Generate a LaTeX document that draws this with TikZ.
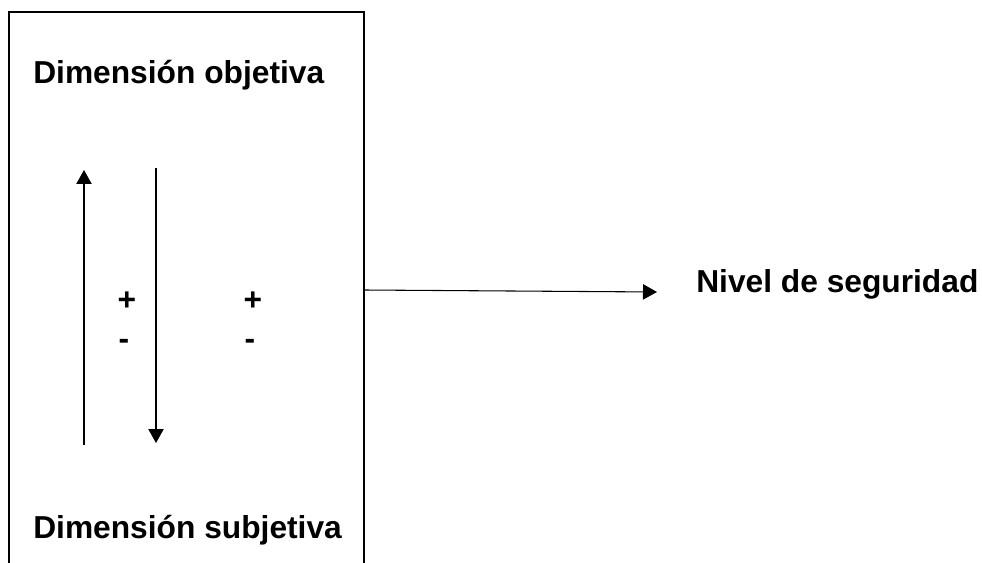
\documentclass[tikz,border=0pt]{standalone}
\usepackage{fontspec}
\setmainfont{Liberation Sans}
\usetikzlibrary{arrows.meta}
\begin{document}
\begin{tikzpicture}[x=0.75pt,y=-0.75pt,
  lbl/.style={font=\bfseries\fontsize{23.8}{28}\selectfont, inner sep=0pt},
  conn/.style={line width=0.8pt, -{Triangle[width=11.5pt,length=10.5pt]}},
  frame/.style={line width=0.9pt}]
\useasboundingbox (0,0) rectangle (982,563);
\coordinate (bl) at (9,563);
\coordinate (tl) at (9,12);
\coordinate (tr) at (364,12);
\coordinate (br) at (364,563);
\draw[frame] (bl) -- (tl) -- (tr) -- (br);
\node[lbl, anchor=base west] (obj) at (33,84) {Dimensión objetiva};
\node[lbl, anchor=base west] (subj) at (33,538) {Dimensión subjetiva};
\node[lbl, anchor=base west] (niv) at (696,292) {Nivel de seguridad};
\node[lbl] (p1) at (127,301) {+};
\node[lbl] (m1) at (124,344) {-};
\node[lbl] (p2) at (253,301) {+};
\node[lbl] (m2) at (250,344) {-};
\coordinate (ua) at (84,445);
\coordinate (ub) at (84,170);
\coordinate (da) at (156,168);
\coordinate (db) at (156,443);
\draw[conn] (ua) -- (ub);
\draw[conn] (da) -- (db);
\coordinate (hs) at (364,290);
\coordinate (he) at (657,292);
\draw[conn] (hs) -- (he);
\end{tikzpicture}
\end{document}
